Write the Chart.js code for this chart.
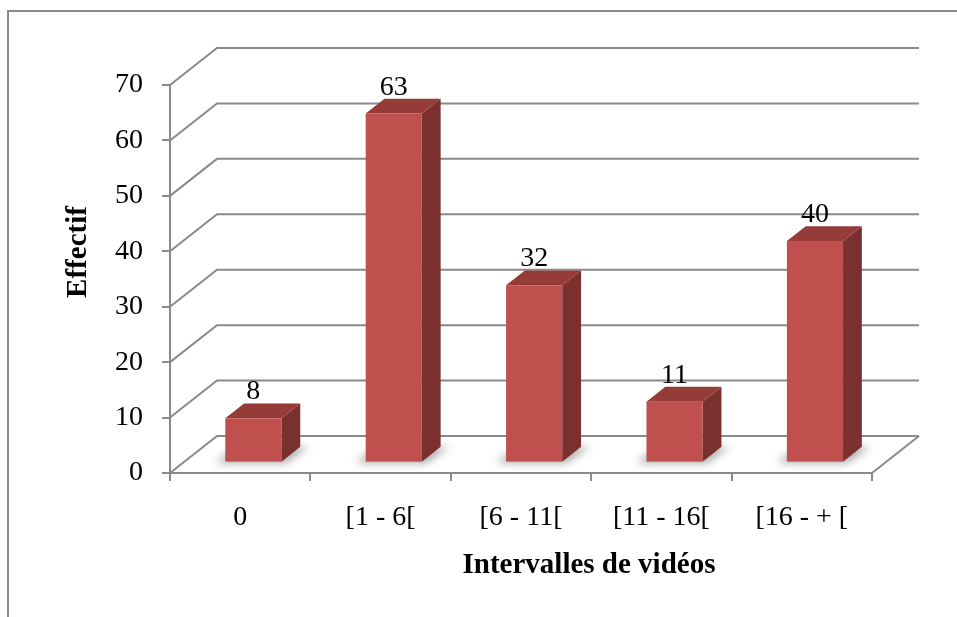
<!DOCTYPE html>
<html>
<head>
<meta charset="utf-8">
<script src="https://cdn.jsdelivr.net/npm/chart.js@4.4.1/dist/chart.umd.min.js"></script>
<style>
    html, body { margin: 0; padding: 0; background: #fff; }
    #wrap { width: 957px; height: 617px; position: relative; }
</style>
</head>
<body>
<div id="wrap"><canvas id="chart" width="957" height="617"></canvas></div>
<script>
// Données du graphique
var categories = ['0', '[1 - 6[', '[6 - 11[', '[11 - 16[', '[16 - + ['];
var effectifs = [8, 63, 32, 11, 40];
var yTicks = [0, 10, 20, 30, 40, 50, 60, 70];
var xTitle = 'Intervalles de vidéos';
var yTitle = 'Effectif';

// Style 3D
var DEPTH_X = 47, DEPTH_Y = -37;   // décalage du mur du fond
var BAR_POS = 0.28, BAR_DEPTH = 0.4;
var gridColor = '#8a8a8a';
var serif = '"Liberation Serif", "Times New Roman", serif';

// cadre autour du graphique
var framePlugin = {
    id: 'frame',
    beforeDraw: function (chart) {
        var ctx = chart.ctx;
        ctx.save();
        ctx.strokeStyle = gridColor;
        ctx.lineWidth = 2;
        ctx.beginPath();
        ctx.moveTo(8, 617);
        ctx.lineTo(8, 11);
        ctx.lineTo(957, 11);
        ctx.stroke();
        ctx.restore();
    }
};

// murs et sol en perspective
var wallsPlugin = {
    id: 'walls',
    beforeDatasetsDraw: function (chart) {
        var ctx = chart.ctx, area = chart.chartArea, ys = chart.scales.y;
        ctx.save();
        ctx.strokeStyle = gridColor;
        ctx.lineWidth = 2;
        yTicks.forEach(function (v) {
            var y = ys.getPixelForValue(v);
            ctx.beginPath();
            ctx.moveTo(area.left, y);
            ctx.lineTo(area.left + DEPTH_X, y + DEPTH_Y);
            ctx.lineTo(area.right + DEPTH_X, y + DEPTH_Y);
            ctx.stroke();
        });
        ctx.beginPath();
        ctx.moveTo(area.right, area.bottom);
        ctx.lineTo(area.right + DEPTH_X, area.bottom + DEPTH_Y);
        ctx.stroke();
        ctx.restore();
    }
};

function poly(ctx, pts, color) {
    ctx.fillStyle = color;
    ctx.beginPath();
    ctx.moveTo(pts[0][0], pts[0][1]);
    for (var i = 1; i < pts.length; i++) ctx.lineTo(pts[i][0], pts[i][1]);
    ctx.closePath();
    ctx.fill();
}

// barres 3D + étiquettes
var bars3dPlugin = {
    id: 'bars3d',
    afterDatasetsDraw: function (chart) {
        var ctx = chart.ctx;
        var meta = chart.getDatasetMeta(0);
        var fx = DEPTH_X * BAR_POS, fy = DEPTH_Y * BAR_POS;
        var sx = DEPTH_X * BAR_DEPTH, sy = DEPTH_Y * BAR_DEPTH;
        meta.data.forEach(function (bar, i) {
            var w = bar.width;
            var left = bar.x - w / 2 + fx, right = bar.x + w / 2 + fx;
            var top = bar.y + fy, bottom = bar.base + fy;

            // ombre au sol
            ctx.save();
            ctx.filter = 'blur(4px)';
            poly(ctx, [[left - 10, bottom + 1], [right + 4, bottom + 1],
                [right + sx + 8, bottom + sy], [left + sx - 6, bottom + sy]], 'rgba(0,0,0,0.35)');
            ctx.restore();

            // face latérale
            poly(ctx, [[right, top], [right + sx, top + sy], [right + sx, bottom + sy], [right, bottom]], '#7a302e');
            // dessus
            poly(ctx, [[left, top], [left + sx, top + sy], [right + sx, top + sy], [right, top]], '#953b38');
            // face avant
            ctx.fillStyle = '#c0504d';
            ctx.fillRect(left, top, right - left, bottom - top);

            // étiquette de valeur
            ctx.save();
            ctx.fillStyle = '#000';
            ctx.font = '28px ' + serif;
            ctx.textAlign = 'center';
            ctx.textBaseline = 'alphabetic';
            ctx.fillText(String(effectifs[i]), (left + right) / 2, top + sy - 4);
            ctx.restore();
        });
    },
    afterDraw: function (chart) {
        var ctx = chart.ctx;
        ctx.save();
        ctx.fillStyle = '#000';
        ctx.font = 'bold 29px ' + serif;
        ctx.textAlign = 'center';
        ctx.textBaseline = 'middle';
        ctx.fillText(xTitle, 589, 566);
        ctx.translate(79, 252);
        ctx.rotate(-Math.PI / 2);
        ctx.fillText(yTitle, 0, 0);
        ctx.restore();
    }
};

var ctx = document.getElementById('chart').getContext('2d');
var chart = new Chart(ctx, {
    type: 'bar',
    data: {
        labels: categories,
        datasets: [{
            label: 'Effectif',
            data: effectifs,
            backgroundColor: 'rgba(0,0,0,0)',
            borderWidth: 0,
            categoryPercentage: 1,
            barPercentage: 0.4
        }]
    },
    options: {
        responsive: false,
        animation: false,
        layout: { padding: { top: 85, right: 85, bottom: 0, left: 0 } },
        plugins: {
            legend: { display: false },
            tooltip: { enabled: false }
        },
        scales: {
            x: {
                grid: { offset: true, drawOnChartArea: false, tickLength: 8, color: gridColor, lineWidth: 2 },
                border: { display: true, color: gridColor, width: 2 },
                ticks: { color: '#000', font: { family: serif, size: 28 }, padding: 20, maxRotation: 0, autoSkip: false },
                afterFit: function (scale) { scale.height = 144; }
            },
            y: {
                min: 0,
                max: 70,
                grid: { drawOnChartArea: false, tickLength: 8, color: gridColor, lineWidth: 2 },
                border: { display: true, color: gridColor, width: 2 },
                ticks: { stepSize: 10, color: '#000', font: { family: serif, size: 28 }, padding: 19 },
                afterFit: function (scale) { scale.width = 170; }
            }
        }
    },
    plugins: [framePlugin, wallsPlugin, bars3dPlugin]
});
</script>
</body>
</html>
